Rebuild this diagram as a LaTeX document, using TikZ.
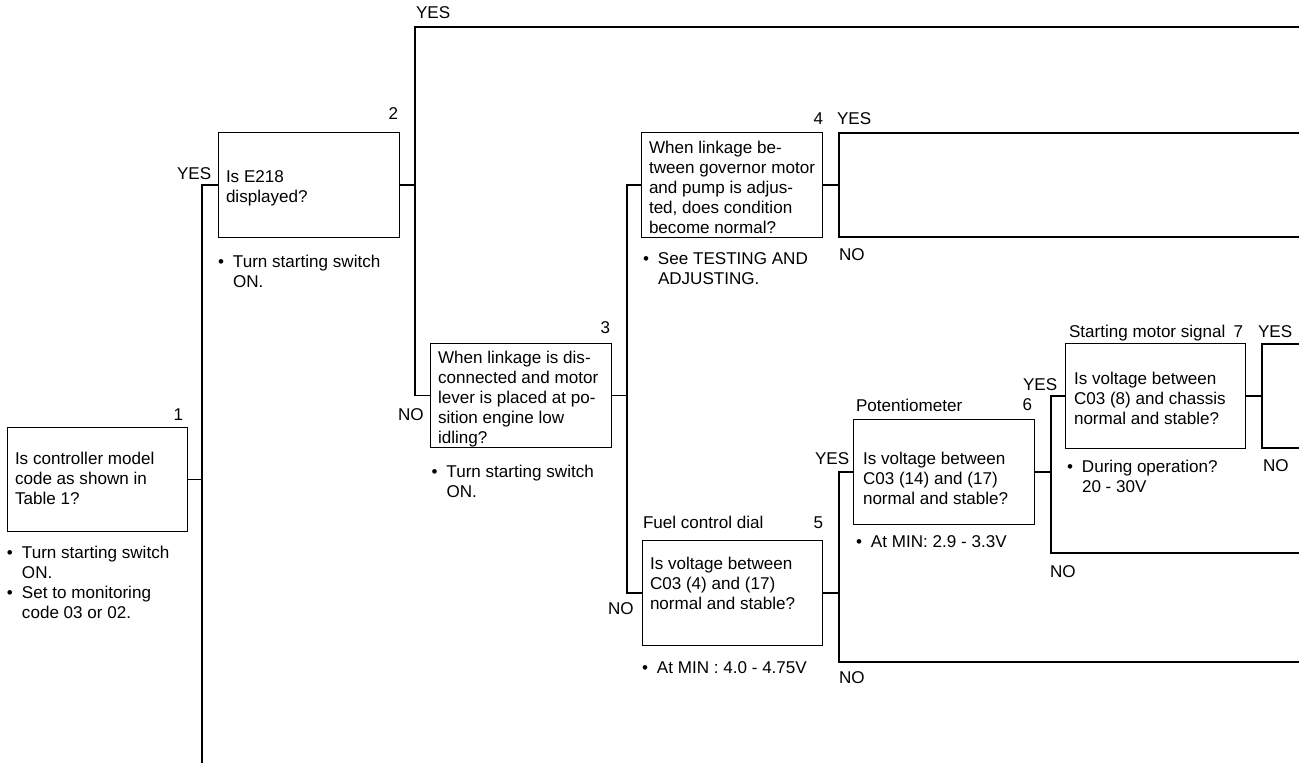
\documentclass[tikz,border=0pt]{standalone}
\usepackage{fontspec}
\setmainfont{Liberation Sans}
\begin{document}
\begin{tikzpicture}[x=0.75pt,y=-0.75pt,
  every node/.style={inner sep=0pt, outer sep=0pt, font=\fontsize{12.8}{15}\selectfont},
  qbox/.style={draw, line width=0.8pt, minimum width=135.5pt, minimum height=78.5pt},
  qtext/.style={anchor=north west, align=left},
  lab/.style={anchor=base west},
  num/.style={anchor=base east},
  conn/.style={line width=0.8pt}]
\useasboundingbox (0,0) rectangle (1306,767);
\newcommand{\bul}{\makebox[11.25pt][l]{\textbullet}}
\newcommand{\ind}{\hspace*{11.25pt}}
% boxes
\node[qbox] (b1) at (97.5,479.5) {};
\node[qbox] (b2) at (309,185) {};
\node[qbox] (b3) at (521,395.5) {};
\node[qbox] (b4) at (732,185) {};
\node[qbox] (b5) at (732.5,593) {};
\node[qbox] (b6) at (944,472) {};
\node[qbox] (b7) at (1155.5,396) {};
% box texts
\node[qtext] (t1) at (15,451.7) {Is controller model\\code as shown in\\Table 1?};
\node[qtext] (t2) at (226,170.7) {Is E218\\displayed?};
\node[qtext] (t3) at (438,350.7) {When linkage is dis-\\connected and motor\\lever is placed at po-\\sition engine low\\idling?};
\node[qtext] (t4) at (649,140.7) {When linkage be-\\tween governor motor\\and pump is adjus-\\ted, does condition\\become normal?};
\node[qtext] (t5) at (650,556.7) {Is voltage between\\C03 (4) and (17)\\normal and stable?};
\node[qtext] (t6) at (863,451.7) {Is voltage between\\C03 (14) and (17)\\normal and stable?};
\node[qtext] (t7) at (1074,371.7) {Is voltage between\\C03 (8) and chassis\\normal and stable?};
% notes
\node[qtext] (n1) at (7,545.7) {\bul Turn starting switch\\\ind ON.\\\bul Set to monitoring\\\ind code 03 or 02.};
\node[qtext] (n2) at (218,254.7) {\bul Turn starting switch\\\ind ON.};
\node[qtext] (n3) at (431.5,464.7) {\bul Turn starting switch\\\ind ON.};
\node[qtext] (n4) at (643,252.7) {\bul See TESTING AND\\\ind ADJUSTING.};
\node[qtext] (n5) at (642,661.7) {\bul At MIN : 4.0 - 4.75V};
\node[qtext] (n6) at (856,535.7) {\bul At MIN: 2.9 - 3.3V};
\node[qtext] (n7) at (1067,459.7) {\bul During operation?\\\ind 20 - 30V};
% numbers and titles
\node[num] (k1) at (183,420) {1};
\node[num] (k2) at (398,119) {2};
\node[num] (k3) at (610,333) {3};
\node[num] (k4) at (823,124) {4};
\node[num] (k5) at (823,528) {5};
\node[num] (k6) at (1032,410) {6};
\node[num] (k7) at (1243,337) {7};
\node[lab] (h5) at (643,528) {Fuel control dial};
\node[lab] (h6) at (856,411) {Potentiometer};
\node[lab] (h7) at (1069,337) {Starting motor signal};
% yes/no labels
\node[lab] (y0) at (416,19) {YES};
\node[lab] (y2) at (177,179) {YES};
\node[lab] (no3) at (398,420) {NO};
\node[lab] (y4) at (837,124) {YES};
\node[lab] (no4) at (839,260) {NO};
\node[lab] (no5) at (608,614) {NO};
\node[lab] (no5b) at (839,683) {NO};
\node[lab] (y6) at (815,464) {YES};
\node[lab] (y7a) at (1023,390) {YES};
\node[lab] (y7) at (1258,337) {YES};
\node[lab] (no7) at (1263,471) {NO};
\node[lab] (no6) at (1050,577) {NO};
% junction coordinates
\coordinate (v1b) at (202,763);
\coordinate (v2) at (415,185);
\coordinate (top) at (1299,27);
\coordinate (v3) at (627,395.5);
\coordinate (v4) at (839,185);
\coordinate (r4t) at (1299,133);
\coordinate (r4b) at (1299,237);
\coordinate (v5) at (839,593);
\coordinate (e5) at (1299,662);
\coordinate (v6) at (1051,472);
\coordinate (e6) at (1299,553);
\coordinate (v7) at (1262,396);
\coordinate (r7t) at (1299,344);
\coordinate (r7b) at (1299,448);
% connectors
\draw[conn] (b1.east) -- (b1.east -| v1b);
\draw[conn] (v1b) |- (b2.west);
\draw[conn] (b2.east) -- (b2.east -| v2);
\draw[conn] (top) -| (v2) |- (b3.west);
\draw[conn] (b3.east) -- (b3.east -| v3);
\draw[conn] (b4.west) -| (v3) |- (b5.west);
\draw[conn] (b4.east) -- (b4.east -| v4);
\draw[conn] (r4t) -| (v4) |- (r4b);
\draw[conn] (b5.east) -- (b5.east -| v5);
\draw[conn] (b6.west) -| (v5) |- (e5);
\draw[conn] (b6.east) -- (b6.east -| v6);
\draw[conn] (b7.west) -| (v6) |- (e6);
\draw[conn] (b7.east) -- (b7.east -| v7);
\draw[conn] (r7t) -| (v7) |- (r7b);
\end{tikzpicture}
\end{document}
